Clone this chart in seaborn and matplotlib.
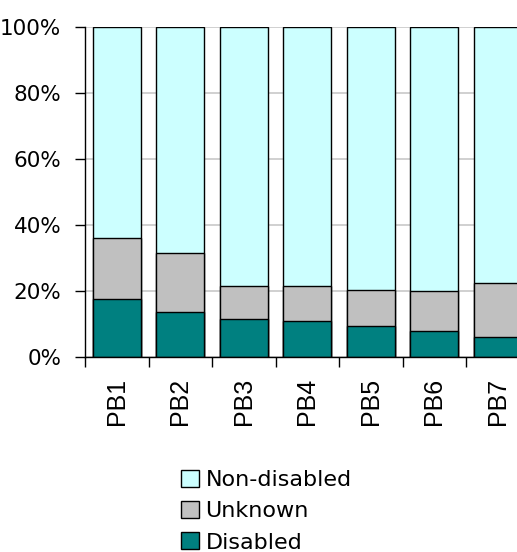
import numpy as np
import pandas as pd
import matplotlib
matplotlib.use("Agg")
import matplotlib.pyplot as plt
import matplotlib.ticker as mticker
from matplotlib.patches import Patch
import seaborn as sns

# ── Data (percent of each group) ────────────────────────────────────────────
groups   = ["PB1", "PB2", "PB3", "PB4", "PB5", "PB6", "PB7"]
disabled = [17.5, 13.5, 11.5, 11.0, 9.5, 7.9, 6.0]
unknown  = [18.6, 18.1, 10.0, 10.5, 10.9, 12.1, 16.5]
nondis   = [100 - d - u for d, u in zip(disabled, unknown)]

CLR = {"Non-disabled": "#CCFFFF", "Unknown": "#C0C0C0", "Disabled": "#008080"}

df = pd.DataFrame({"group": groups, "Disabled": disabled,
                   "Unknown": unknown, "Non-disabled": nondis})
df["lvl2"] = df["Disabled"] + df["Unknown"]
df["lvl3"] = df["lvl2"] + df["Non-disabled"]

sns.set_style("white")
plt.rcParams.update({
    "font.family": ["DejaVu Sans"],
    "text.color": "black",
    "xtick.color": "black",
    "ytick.color": "black",
})

fig = plt.figure(figsize=(5.17, 5.52), dpi=100)
ax = fig.add_axes([0.1644, 0.3533, 0.86, 0.5983])

# gridlines behind bars
ax.set_axisbelow(True)
ax.yaxis.grid(True, color="#C8C8C8", linewidth=1.2)

bar_kw = dict(width=0.76, edgecolor="black", linewidth=1.0, ax=ax,
              order=groups, saturation=1)
sns.barplot(data=df, x="group", y="lvl3", color=CLR["Non-disabled"], **bar_kw)
sns.barplot(data=df, x="group", y="lvl2", color=CLR["Unknown"], **bar_kw)
sns.barplot(data=df, x="group", y="Disabled", color=CLR["Disabled"], **bar_kw)

ax.set_xlim(-0.5, len(groups) - 0.5)
ax.set_ylim(0, 100)
ax.set_xlabel("")
ax.set_ylabel("")

# y axis
ax.yaxis.set_major_locator(mticker.MultipleLocator(20))
ax.yaxis.set_major_formatter(mticker.FuncFormatter(lambda v, p: f"{v:.0f}%"))
ax.tick_params(axis="y", which="major", direction="out", length=7, width=1.0,
               color="black", labelcolor="black", labelsize=15.5, pad=10, left=True)

# x axis: labels at centres, ticks at category boundaries
ax.set_xticks(range(len(groups)))
ax.set_xticklabels(groups, rotation=90, fontsize=18, family="Liberation Sans",
                   color="black")
ax.tick_params(axis="x", which="major", length=0, pad=15)
ax.set_xticks(np.arange(-0.5, len(groups), 1.0), minor=True)
ax.tick_params(axis="x", which="minor", direction="out", length=7, width=1.0,
               color="black", bottom=True)

for side in ["top", "right"]:
    ax.spines[side].set_visible(False)
for side in ["left", "bottom"]:
    ax.spines[side].set_color("black")
    ax.spines[side].set_linewidth(1.0)

# legend
order = ["Non-disabled", "Unknown", "Disabled"]
handles = [Patch(facecolor=CLR[k], edgecolor="black", linewidth=1.0, label=k)
           for k in order]
fig.legend(handles=handles, loc="upper left", bbox_to_anchor=(0.333, 0.165),
           frameon=False, fontsize=16, handlelength=0.8, handleheight=0.8,
           handletextpad=0.3, labelspacing=0.5, borderaxespad=0,
           labelcolor="black")

fig.savefig("out.png", dpi=100)
